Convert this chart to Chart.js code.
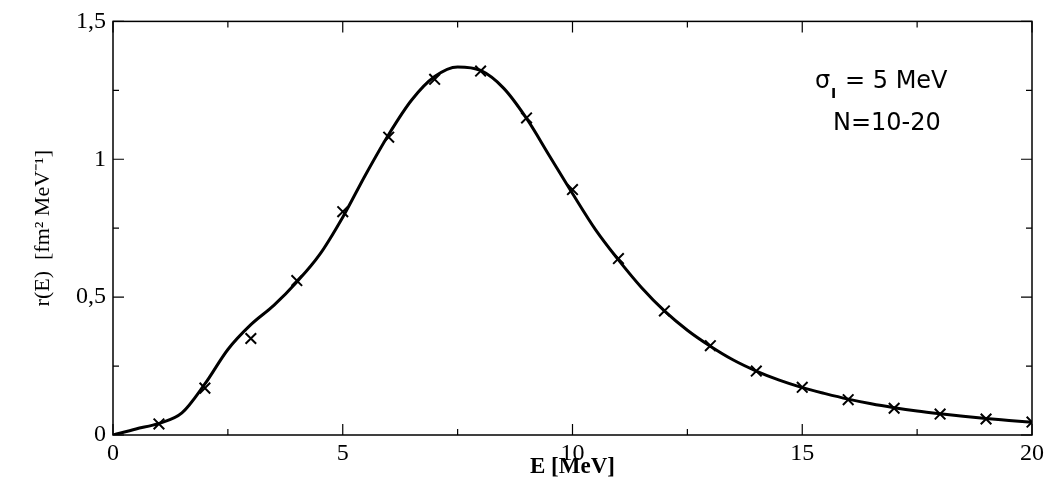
<!DOCTYPE html>
<html>
<head>
<meta charset="utf-8">
<script src="https://cdn.jsdelivr.net/npm/chart.js@4"></script>
<style>
  html, body { margin: 0; padding: 0; background: #fff; }
  #wrap { width: 1052px; height: 488px; }
</style>
</head>
<body>
<div id="wrap"><canvas id="rChart" width="1052" height="488"></canvas></div>
<script>
// smooth curve r(E)
var curveE = [0, 0.5, 1, 1.5, 2, 2.5, 3, 3.5, 4, 4.5, 5, 5.5, 6, 6.5, 7, 7.5, 8, 8.5, 9, 9.5, 10,
  10.5, 11, 11.5, 12, 12.5, 13, 13.5, 14, 14.5, 15, 15.5, 16, 16.5, 17, 17.5, 18, 18.5, 19, 19.5, 20];
var curveR = [0, 0.022, 0.042, 0.08, 0.185, 0.31, 0.40, 0.47, 0.555, 0.655, 0.79, 0.945, 1.09, 1.215, 1.30, 1.335, 1.322,
  1.258, 1.148, 1.012, 0.876, 0.745, 0.635, 0.535, 0.45, 0.38, 0.322, 0.272, 0.232, 0.199, 0.172,
  0.15, 0.13, 0.113, 0.099, 0.087, 0.077, 0.068, 0.06, 0.053, 0.046];

// crosses at integer energies
var markE = [1, 2, 3, 4, 5, 6, 7, 8, 9, 10, 11, 12, 13, 14, 15, 16, 17, 18, 19, 20];
var markR = [0.04, 0.17, 0.35, 0.56, 0.81, 1.08, 1.29, 1.32, 1.15, 0.89, 0.64, 0.45, 0.324, 0.232, 0.173,
  0.128, 0.097, 0.076, 0.058, 0.047];

var xTicks = [0, 5, 10, 15, 20];
var yTicks = [0, 0.5, 1, 1.5];

var serif = "'Liberation Serif', 'Times New Roman', serif";

function pts(xs, ys) {
  return xs.map(function (x, i) { return { x: x, y: ys[i] }; });
}

// ticks pointing inward on all four sides + the sigma/N note
var framePlugin = {
  id: "frame",
  afterDraw: function (chart) {
    var ctx = chart.ctx, a = chart.chartArea;
    var xs = chart.scales.x, ys = chart.scales.y;
    ctx.save();
    ctx.strokeStyle = "#000";
    ctx.lineWidth = 1.5;
    ctx.strokeRect(a.left, a.top, a.right - a.left, a.bottom - a.top);
    ctx.lineWidth = 1.2;
    for (var v = 0; v <= 20; v += 2.5) {
      var len = (v % 5 === 0) ? 11 : 6;
      var px = xs.getPixelForValue(v);
      ctx.beginPath();
      ctx.moveTo(px, a.bottom); ctx.lineTo(px, a.bottom - len);
      ctx.moveTo(px, a.top); ctx.lineTo(px, a.top + len);
      ctx.stroke();
    }
    for (var w = 0; w <= 1.5; w += 0.25) {
      var l2 = (Math.abs(w * 2 - Math.round(w * 2)) < 1e-6) ? 11 : 6;
      var py = ys.getPixelForValue(w);
      ctx.beginPath();
      ctx.moveTo(a.left, py); ctx.lineTo(a.left + l2, py);
      ctx.moveTo(a.right, py); ctx.lineTo(a.right - l2, py);
      ctx.stroke();
    }
    // annotation
    ctx.fillStyle = "#000";
    ctx.textBaseline = "alphabetic";
    ctx.textAlign = "left";
    ctx.font = "24px 'DejaVu Sans'";
    ctx.fillText("\u03c3", 815, 88);
    ctx.font = "bold 14px 'DejaVu Sans'";
    ctx.fillText("I", 831, 98);
    ctx.font = "24px 'DejaVu Sans'";
    ctx.fillText("= 5 MeV", 845, 88);
    ctx.fillText("N=10-20", 833, 130);
    ctx.restore();
  }
};

var ctx = document.getElementById("rChart").getContext("2d");
var rChart = new Chart(ctx, {
  type: "scatter",
  data: {
    datasets: [
      {
        label: "curve",
        data: pts(curveE, curveR),
        showLine: true,
        borderColor: "#000",
        borderWidth: 3,
        pointRadius: 0,
        cubicInterpolationMode: "monotone"
      },
      {
        label: "N=10-20",
        data: pts(markE, markR),
        showLine: false,
        pointStyle: "crossRot",
        pointRadius: 7.5,
        pointBorderWidth: 2,
        borderColor: "#000",
        backgroundColor: "#000"
      }
    ]
  },
  plugins: [framePlugin],
  options: {
    responsive: false,
    animation: false,
    layout: { padding: { top: 18, right: 20, left: 0, bottom: 0 } },
    plugins: { legend: { display: false }, tooltip: { enabled: false } },
    scales: {
      x: {
        type: "linear",
        min: 0, max: 20,
        afterFit: function (s) { s.height = 53; },
        afterBuildTicks: function (s) { s.ticks = xTicks.map(function (v) { return { value: v }; }); },
        grid: { display: false, drawTicks: false },
        border: { display: false },
        ticks: {
          color: "#000",
          padding: 4,
          maxRotation: 0,
          font: { family: serif, size: 24 }
        },
        title: {
          display: true,
          text: "E [MeV]",
          color: "#000",
          font: { family: serif, size: 23, weight: "bold", lineHeight: 1.2 },
          padding: { top: 0, bottom: 7 }
        }
      },
      y: {
        type: "linear",
        min: 0, max: 1.5,
        afterFit: function (s) { s.width = 113; },
        afterBuildTicks: function (s) { s.ticks = yTicks.map(function (v) { return { value: v }; }); },
        grid: { display: false, drawTicks: false },
        border: { display: false },
        ticks: {
          color: "#000",
          padding: 7,
          font: { family: serif, size: 24 },
          callback: function (v) { return String(v).replace(".", ","); }
        },
        title: {
          display: true,
          text: "r(E)  [fm\u00b2 MeV\u207b\u00b9]",
          color: "#000",
          font: { family: serif, size: 22, lineHeight: 1.2 },
          padding: { top: 30, bottom: 0 }
        }
      }
    }
  }
});
</script>
</body>
</html>
